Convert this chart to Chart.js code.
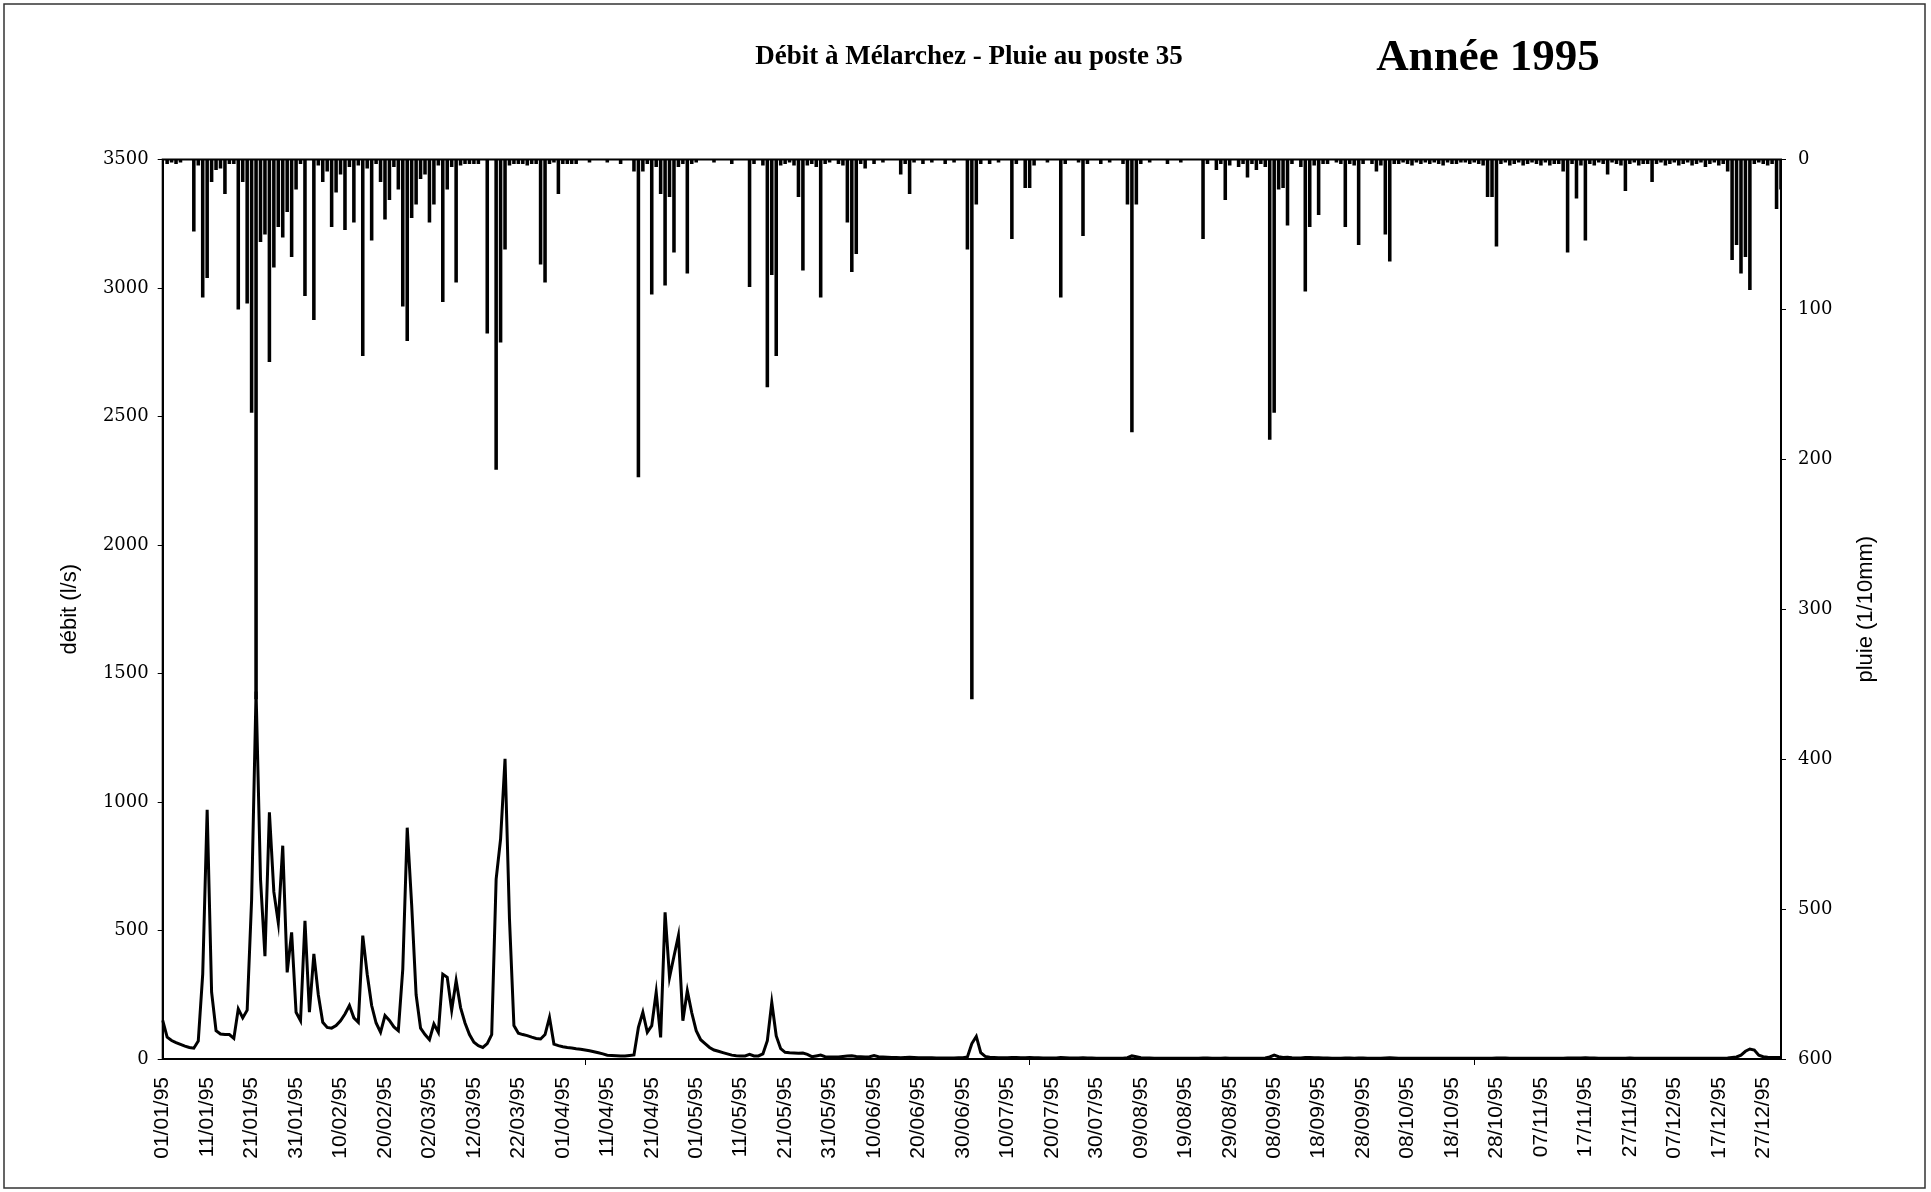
<!DOCTYPE html>
<html>
<head>
<meta charset="utf-8">
<title>Débit à Mélarchez - Pluie au poste 35</title>
<script src="https://cdn.jsdelivr.net/npm/chart.js@4.4.1/dist/chart.umd.min.js"></script>
<style>
  html, body { margin: 0; padding: 0; background: #fff; }
  #wrap { width: 1931px; height: 1192px; position: relative; }
</style>
</head>
<body>
<div id="wrap"><canvas id="debit-pluie"></canvas></div>
<script>
(function () {
    "use strict";

    // Calendar 1995
    var monthNames = ["01", "02", "03", "04", "05", "06", "07", "08", "09", "10", "11", "12"];
    var monthDays = [31, 28, 31, 30, 31, 30, 31, 31, 30, 31, 30, 31];

    // Débit (l/s), one value per day
    var debitJan = [150, 85, 72, 64, 57, 50, 45, 42, 70, 330, 970, 260, 110, 97, 95, 95, 80, 195, 160, 190, 620, 1430, 700, 400, 960, 650, 530, 830, 337, 493, 182];
    var debitFeb = [149, 538, 182, 409, 250, 143, 123, 120, 130, 149, 175, 208, 160, 143, 480, 330, 208, 140, 104, 169, 150, 125, 110, 350, 900, 600, 250, 120];
    var debitMar = [95, 75, 136, 104, 330, 318, 190, 305, 200, 140, 95, 65, 52, 45, 60, 95, 700, 856, 1168, 545, 130, 100, 95, 91, 85, 80, 78, 95, 162, 58, 52];
    var debitApr = [48, 45, 43, 40, 38, 35, 32, 28, 24, 20, 15, 14, 13, 12, 12, 14, 16, 123, 182, 104, 130, 260, 84, 571, 318, 400, 480, 149, 266, 180];
    var debitMay = [110, 75, 60, 45, 35, 30, 25, 20, 15, 13, 12, 12, 18, 12, 12, 20, 71, 220, 90, 40, 26, 24, 23, 22, 23, 18, 9, 12, 15, 9, 8];
    var debitJun = [8, 8, 10, 12, 13, 10, 9, 8, 9, 13, 9, 8, 7, 6, 6, 5, 6, 7, 6, 5, 5, 5, 5, 4, 4, 4, 4, 4, 5, 5];
    var debitJul = [8, 60, 88, 25, 10, 7, 6, 5, 5, 5, 6, 6, 5, 5, 6, 5, 5, 4, 4, 4, 4, 6, 5, 4, 4, 4, 5, 4, 4, 3, 3];
    var debitAug = [3, 3, 3, 3, 3, 5, 12, 9, 5, 4, 4, 3, 3, 3, 3, 3, 3, 3, 3, 3, 3, 3, 4, 4, 3, 3, 3, 4, 3, 3, 3];
    var debitSep = [3, 3, 3, 3, 3, 4, 8, 15, 9, 6, 7, 5, 4, 4, 6, 6, 5, 5, 4, 4, 3, 3, 3, 4, 4, 3, 4, 4, 3, 3];
    var debitOct = [3, 3, 4, 5, 4, 3, 3, 3, 3, 3, 3, 3, 3, 3, 3, 3, 3, 3, 3, 3, 3, 3, 3, 3, 3, 3, 3, 4, 4, 4, 3];
    var debitNov = [3, 3, 3, 3, 3, 3, 3, 3, 3, 3, 3, 3, 4, 4, 4, 4, 5, 4, 4, 3, 3, 3, 3, 3, 3, 3, 4, 3, 3, 3];
    var debitDec = [3, 3, 3, 3, 3, 3, 3, 3, 3, 3, 3, 3, 3, 3, 3, 3, 3, 3, 4, 6, 8, 15, 30, 39, 35, 15, 9, 7, 6, 6, 6];

    // Pluie au poste 35 (1/10mm), one value per day
    var pluieJan = [0, 3, 2, 3, 2, 0, 0, 48, 4, 92, 79, 15, 7, 6, 23, 3, 3, 100, 15, 96, 169, 360, 55, 50, 135, 72, 45, 52, 35, 65, 20];
    var pluieFeb = [3, 91, 0, 107, 4, 15, 8, 45, 22, 10, 47, 5, 42, 4, 131, 6, 54, 3, 15, 40, 27, 5, 20, 98, 121, 39, 30, 13];
    var pluieMar = [10, 42, 30, 4, 95, 20, 5, 82, 4, 3, 3, 3, 3, 0, 116, 0, 207, 122, 60, 4, 3, 3, 3, 4, 3, 3, 70, 82, 3, 2, 23];
    var pluieApr = [3, 3, 3, 3, 0, 0, 2, 0, 0, 0, 2, 0, 0, 3, 0, 0, 8, 212, 8, 3, 90, 5, 23, 84, 25, 62, 5, 3, 76, 3];
    var pluieMay = [2, 0, 0, 0, 2, 0, 0, 0, 3, 0, 0, 0, 85, 3, 0, 4, 152, 77, 131, 4, 3, 2, 4, 25, 74, 4, 3, 5, 92, 3, 2];
    var pluieJun = [0, 3, 4, 42, 75, 63, 3, 6, 0, 3, 0, 2, 0, 0, 0, 10, 3, 23, 2, 0, 3, 0, 2, 0, 0, 3, 0, 2, 0, 0];
    var pluieJul = [60, 360, 30, 3, 0, 3, 0, 2, 0, 0, 53, 3, 0, 19, 19, 4, 0, 0, 2, 0, 0, 92, 3, 0, 0, 2, 51, 3, 0, 0, 3];
    var pluieAug = [0, 2, 0, 0, 3, 30, 182, 30, 3, 0, 2, 0, 0, 0, 3, 0, 0, 2, 0, 0, 0, 0, 53, 3, 0, 7, 3, 27, 4, 0, 5];
    var pluieSep = [3, 12, 3, 7, 3, 5, 187, 169, 20, 19, 44, 3, 0, 5, 88, 45, 4, 37, 3, 3, 0, 2, 3, 45, 3, 4, 57, 3, 0, 3];
    var pluieOct = [8, 4, 50, 68, 3, 3, 2, 3, 4, 2, 3, 2, 3, 2, 3, 4, 2, 3, 3, 2, 2, 3, 2, 3, 4, 25, 25, 58, 3, 2, 4];
    var pluieNov = [3, 2, 4, 3, 2, 3, 4, 2, 4, 3, 3, 8, 62, 3, 26, 4, 54, 3, 4, 2, 3, 10, 2, 3, 4, 21, 3, 2, 4, 3];
    var pluieDec = [3, 15, 3, 2, 4, 3, 2, 4, 3, 2, 4, 3, 2, 5, 3, 2, 4, 3, 8, 67, 57, 76, 65, 87, 3, 2, 3, 4, 3, 33, 20];

    // Axis ranges
    var debitMax = 3500, debitStep = 500;
    var pluieMax = 600, pluieStep = 100;
    var labelEvery = 10;

    // Day labels dd/mm/95
    var labels = [];
    for (var m = 0; m < 12; m++) {
        for (var d = 1; d <= monthDays[m]; d++) {
            labels.push((d < 10 ? "0" + d : "" + d) + "/" + monthNames[m] + "/95");
        }
    }

    var debit = [].concat(debitJan, debitFeb, debitMar, debitApr, debitMay, debitJun,
        debitJul, debitAug, debitSep, debitOct, debitNov, debitDec);
    var pluie = [].concat(pluieJan, pluieFeb, pluieMar, pluieApr, pluieMay, pluieJun,
        pluieJul, pluieAug, pluieSep, pluieOct, pluieNov, pluieDec);

    // Frame, titles and right axis title
    var decor = {
        id: 'decor',
        afterDraw: function (chart) {
            var ctx = chart.ctx;
            var a = chart.chartArea;
            ctx.save();
            ctx.strokeStyle = "#000";
            ctx.lineWidth = 2;
            ctx.strokeRect(a.left, a.top, a.right - a.left, a.bottom - a.top);

            ctx.strokeStyle = "#333";
            ctx.lineWidth = 1.5;
            ctx.strokeRect(4, 4, 1921, 1184);

            ctx.fillStyle = "#000";
            ctx.textAlign = "center";
            ctx.textBaseline = "alphabetic";
            ctx.font = 'bold 27px "Liberation Serif"';
            ctx.fillText("Débit à Mélarchez - Pluie au poste 35", 969, 64);
            ctx.font = 'bold 45px "Liberation Serif"';
            ctx.fillText("Année 1995", 1488, 70);

            ctx.translate(1866, (a.top + a.bottom) / 2);
            ctx.rotate(-Math.PI / 2);
            ctx.textBaseline = "middle";
            ctx.font = '22px "Liberation Sans"';
            ctx.fillText("pluie (1/10mm)", 0, 0);
            ctx.restore();
        }
    };

    var ctx1 = document.getElementById('debit-pluie').getContext('2d');
    var myChart1 = new Chart(ctx1, {
        type: "bar",
        data: {
            labels: labels,
            datasets: [{
                type: "line",
                label: "débit",
                data: debit,
                yAxisID: "y",
                borderColor: "#000",
                borderWidth: 3,
                pointRadius: 0,
                tension: 0,
                fill: false
            }, {
                type: "bar",
                label: "pluie",
                data: pluie,
                yAxisID: "y2",
                backgroundColor: "#000",
                categoryPercentage: 1,
                barPercentage: 0.8
            }]
        },
        options: {
            responsive: true,
            maintainAspectRatio: false,
            animation: false,
            layout: { padding: { top: 159.5, left: 0, right: 0, bottom: 0 } },
            plugins: {
                legend: { display: false },
                tooltip: { enabled: false }
            },
            scales: {
                x: {
                    type: "category",
                    offset: false,
                    border: { display: true, color: "#000", width: 2 },
                    grid: {
                        drawOnChartArea: false,
                        tickLength: 6,
                        color: function (c) { return c.index % labelEvery === 0 ? "#000" : "rgba(0,0,0,0)"; }
                    },
                    ticks: {
                        autoSkip: false,
                        minRotation: 90,
                        maxRotation: 90,
                        padding: 12,
                        color: "#000",
                        font: { family: "Liberation Sans", size: 21 },
                        callback: function (value, index) {
                            return index % labelEvery === 0 ? this.getLabelForValue(value) : null;
                        }
                    },
                    afterFit: function (s) { s.height = 133; }
                },
                y: {
                    position: "left",
                    min: 0,
                    max: debitMax,
                    border: { display: true, color: "#000", width: 2 },
                    grid: { drawOnChartArea: false, tickLength: 5, color: "#000" },
                    ticks: {
                        stepSize: debitStep,
                        padding: 9,
                        color: "#000",
                        font: { family: "DejaVu Serif", size: 18 },
                        callback: function (value) { return String(value); }
                    },
                    title: {
                        display: true,
                        text: "débit (l/s)",
                        color: "#000",
                        padding: { top: 57, bottom: 0 },
                        font: { family: "Liberation Sans", size: 22 }
                    },
                    afterFit: function (s) { s.width = 162.7; }
                },
                y2: {
                    position: "right",
                    min: 0,
                    max: pluieMax,
                    reverse: true,
                    border: { display: true, color: "#000", width: 2 },
                    grid: { drawOnChartArea: false, tickLength: 5, color: "#000" },
                    ticks: {
                        stepSize: pluieStep,
                        padding: 12,
                        color: "#000",
                        font: { family: "DejaVu Serif", size: 18 },
                        callback: function (value) { return String(value); }
                    },
                    afterFit: function (s) { s.width = 150; }
                }
            }
        },
        plugins: [decor]
    });
})();
</script>
</body>
</html>
